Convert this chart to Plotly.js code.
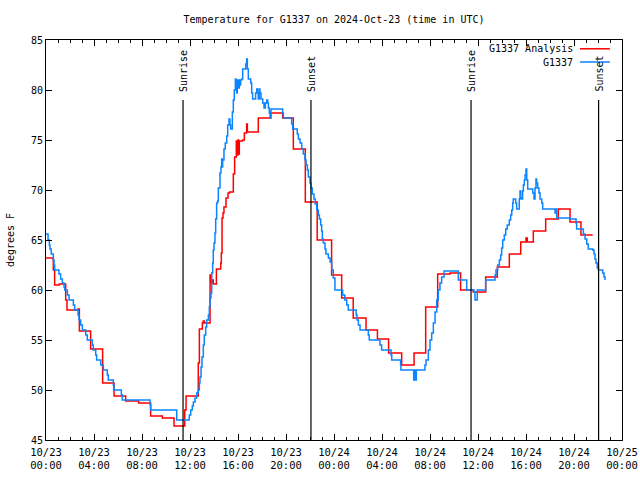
<!DOCTYPE html>
<html>
<head>
<meta charset="utf-8">
<script src="https://cdn.plot.ly/plotly-3.0.1.min.js"></script>
<style>html,body{margin:0;padding:0;background:#fff;}#chart{width:640px;height:480px;}</style>
</head>
<body>
<div id="chart"></div>
<script>
// Hours after 2024-10-23 00:00 UTC, and temperatures (degrees F)
var analysisHours = [0.0,0.61,0.72,1.1,1.64,1.75,2.67,2.78,3.72,4.72,5.67,6.64,7.72,8.72,9.69,10.67,11.56,11.67,12.69,12.78,13.03,13.1,13.2,13.67,13.78,13.86,13.94,14.2,14.56,14.61,14.67,14.75,14.83,15.0,15.17,15.3,15.61,15.72,15.86,15.92,16.0,16.06,16.11,16.39,16.53,16.72,16.78,17.69,18.72,19.72,20.61,21.61,22.6,23.8,24.64,25.6,26.67,27.62,28.55,29.64,30.67,31.64,32.64,33.67,34.55,35.6,36.64,37.61,38.61,39.56,40.0,40.11,40.61,41.64,42.69,43.67,44.58,45.56];
var analysisTemps = [63.2,62.0,60.5,60.6,59.0,58.0,58.1,55.9,54.1,50.7,49.4,48.9,48.7,47.4,47.2,46.4,48.0,49.4,52.7,56.1,56.7,56.9,56.7,61.5,60.7,61.0,60.6,62.1,62.7,63.7,67.2,67.7,68.3,69.2,69.7,69.8,71.6,73.3,74.9,73.5,75.0,73.6,74.9,75.0,75.7,76.6,75.8,77.2,77.7,77.2,74.1,68.8,65.0,61.5,59.2,57.2,56.0,55.1,53.7,52.5,53.7,58.3,61.6,61.7,60.0,59.8,61.3,62.3,63.6,64.8,65.2,64.8,65.9,67.1,68.1,66.8,65.5,65.5];

var obsHours = [0.0,0.17,0.28,0.33,0.44,0.61,0.67,0.72,1.08,1.22,1.36,1.5,1.56,1.78,1.92,2.28,2.39,2.67,2.75,2.89,3.03,3.31,3.44,3.86,3.94,4.14,4.22,4.56,4.78,5.11,5.19,5.61,5.67,6.28,6.36,8.67,8.72,10.89,11.94,12.06,12.19,12.28,12.42,12.56,12.69,12.78,12.83,12.92,13.0,13.11,13.19,13.31,13.39,13.53,13.61,13.67,13.75,13.81,13.89,13.94,14.0,14.08,14.14,14.22,14.3,14.36,14.5,14.58,14.64,14.69,14.72,14.83,14.94,15.06,15.14,15.25,15.33,15.39,15.53,15.61,15.69,15.78,15.83,15.89,15.94,16.03,16.11,16.17,16.22,16.31,16.39,16.64,16.72,16.78,16.86,17.06,17.14,17.22,17.47,17.56,17.64,17.69,17.78,17.83,17.92,18.06,18.17,18.28,18.39,18.47,18.53,18.61,18.67,18.75,19.72,19.78,20.47,20.56,20.94,21.03,21.17,21.31,21.44,21.58,21.67,21.78,21.86,22.0,22.08,22.19,22.33,22.44,22.56,22.69,22.78,22.89,22.97,23.03,23.11,23.25,23.33,23.53,23.67,23.81,23.94,24.08,24.72,24.9,25.06,25.19,25.85,25.92,26.03,26.17,26.86,26.94,27.83,27.97,28.75,28.81,29.55,29.58,30.64,30.7,30.78,30.86,31.58,31.67,31.86,32.0,32.14,32.28,32.42,32.56,32.69,32.83,32.97,33.17,34.36,35.06,35.67,35.75,35.94,36.64,37.42,37.5,37.64,37.78,37.89,37.97,38.06,38.19,38.31,38.44,38.61,38.72,38.81,38.89,38.94,39.14,39.22,39.44,39.5,39.56,39.64,39.72,39.78,39.86,39.92,40.0,40.06,40.14,40.56,40.67,40.75,40.83,40.89,40.97,41.08,41.17,41.31,41.39,42.42,42.5,42.56,43.67,44.17,44.22,44.78,44.92,45.06,45.19,45.56,45.67,45.75,45.83,45.94,46.03,46.39,46.5,46.58];
var obsTemps = [65.6,65.0,64.5,64.1,63.6,63.0,62.5,62.0,61.6,61.1,60.7,60.3,60.0,59.5,59.0,58.5,58.0,57.5,57.0,56.5,56.0,55.5,55.0,54.5,54.0,53.5,53.0,52.5,52.0,51.5,51.0,50.5,50.0,49.5,49.0,48.5,48.0,47.0,47.5,48.0,48.4,48.8,49.2,49.7,50.0,50.7,51.3,52.3,53.3,54.5,55.5,56.3,57.0,57.5,58.3,59.2,59.7,61.7,62.7,64.0,64.7,65.7,67.1,68.7,68.9,70.2,71.7,72.3,73.1,72.3,73.0,74.1,74.7,75.4,76.5,77.1,76.5,76.1,77.8,79.0,80.0,81.1,80.6,79.7,81.0,80.2,81.0,80.5,81.0,81.1,82.1,82.6,83.1,82.1,81.1,80.7,79.7,79.1,79.7,80.1,79.7,79.1,80.1,79.7,79.1,78.7,78.2,78.7,79.0,78.7,78.2,77.7,77.2,78.1,77.7,77.2,76.6,76.1,75.6,75.1,74.7,74.1,73.6,73.0,72.5,72.0,71.3,70.7,70.2,69.6,69.1,68.6,68.0,67.5,67.1,66.5,65.9,65.1,64.7,64.1,63.6,63.2,62.8,62.0,61.2,60.0,59.5,59.0,58.5,58.0,57.5,57.0,56.5,56.0,55.5,55.0,54.5,54.0,53.5,53.0,52.5,52.0,51.0,52.0,51.0,52.0,52.5,53.0,54.0,55.0,55.7,56.7,57.8,59.0,60.0,60.7,61.3,61.9,61.0,60.0,59.8,59.0,60.0,61.0,61.5,62.0,62.5,63.0,63.5,64.2,65.0,65.5,66.1,66.5,67.0,67.5,68.0,68.7,69.1,68.7,68.1,69.1,69.9,69.2,69.1,69.9,70.5,71.0,71.5,72.1,71.0,70.1,69.7,69.1,70.2,71.1,70.7,70.2,69.7,69.1,68.7,68.1,67.7,68.1,67.2,67.1,66.7,66.1,65.6,65.1,64.6,64.1,64.0,63.6,63.1,62.7,62.2,62.0,61.7,61.3,61.0];

var eventLabels = ["Sunrise","Sunset","Sunrise","Sunset"];
var eventHours = [11.42, 22.08, 35.42, 46.05];

var seriesNames = ["G1337 Analysis", "G1337"];
var seriesColors = ["#ff0000", "#0a84ff"];

var BASE = Date.UTC(2024, 9, 23, 0, 0, 0);
function toDate(h) {
  return new Date(BASE + Math.round(h * 3600000)).toISOString().slice(0, 19).replace('T', ' ');
}

var FONT = "DejaVu Sans Mono";
var traces = [
  {x: analysisHours.map(toDate), y: analysisTemps, type: 'scatter', mode: 'lines',
   name: seriesNames[0], line: {color: seriesColors[0], width: 1.5, shape: 'hv'}},
  {x: obsHours.map(toDate), y: obsTemps, type: 'scatter', mode: 'lines',
   name: seriesNames[1], line: {color: seriesColors[1], width: 1.5, shape: 'hv'}}
];

var shapes = [];
var annotations = [];
eventHours.forEach(function (h, i) {
  shapes.push({type: 'line', xref: 'x', yref: 'paper', x0: toDate(h), x1: toDate(h),
               y0: 0, y1: 0.85, line: {color: '#000', width: 1.2}});
  annotations.push({xref: 'x', yref: 'paper', x: toDate(h), y: 0.865, text: eventLabels[i],
                    textangle: -90, showarrow: false, xanchor: 'center', yanchor: 'bottom',
                    font: {family: FONT, size: 10, color: '#000'}});
});

// gnuplot-style legend: text on the left, line sample on the right
var legendY = [0.978, 0.945];
seriesNames.forEach(function (n, i) {
  annotations.push({xref: 'paper', yref: 'paper', x: 0.918, y: legendY[i], text: n,
                    showarrow: false, xanchor: 'right', yanchor: 'middle',
                    font: {family: FONT, size: 10, color: '#000'}});
  shapes.push({type: 'line', xref: 'paper', yref: 'paper', x0: 0.927, x1: 0.979,
               y0: legendY[i], y1: legendY[i], line: {color: seriesColors[i], width: 1.5}});
});

var layout = {
  width: 640, height: 480,
  margin: {l: 46, r: 18, t: 40, b: 40},
  paper_bgcolor: '#fff', plot_bgcolor: '#fff',
  showlegend: false,
  font: {family: FONT, size: 10, color: '#000'},
  title: {text: 'Temperature for G1337 on 2024-Oct-23 (time in UTC)',
          font: {family: FONT, size: 10, color: '#000'},
          xref: 'paper', x: 0.5, xanchor: 'center', yref: 'container', y: 0.96, yanchor: 'middle'},
  xaxis: {type: 'date', range: [toDate(0), toDate(48)], dtick: 4 * 3600000, tick0: toDate(0),
          tickformat: '%m/%d<br>%H:%M', ticks: 'inside', ticklen: 6, tickcolor: '#000',
          ticklabelstandoff: 2,
          showline: true, linecolor: '#000', linewidth: 1, mirror: 'ticks', showgrid: false,
          zeroline: false, tickfont: {family: FONT, size: 10.5, color: '#000'},
          minor: {dtick: 3600000, ticks: 'inside', ticklen: 3, tickcolor: '#000', showgrid: false}},
  yaxis: {range: [45, 85], dtick: 5, ticks: 'inside', ticklen: 6, tickcolor: '#000',
          showline: true, linecolor: '#000', linewidth: 1, mirror: 'ticks', showgrid: false,
          zeroline: false, tickfont: {family: FONT, size: 10, color: '#000'},
          title: {text: 'degrees F', font: {family: FONT, size: 10, color: '#000'}, standoff: 14}},
  shapes: shapes,
  annotations: annotations
};

Plotly.newPlot('chart', traces, layout, {staticPlot: true, displayModeBar: false});
</script>
</body>
</html>
